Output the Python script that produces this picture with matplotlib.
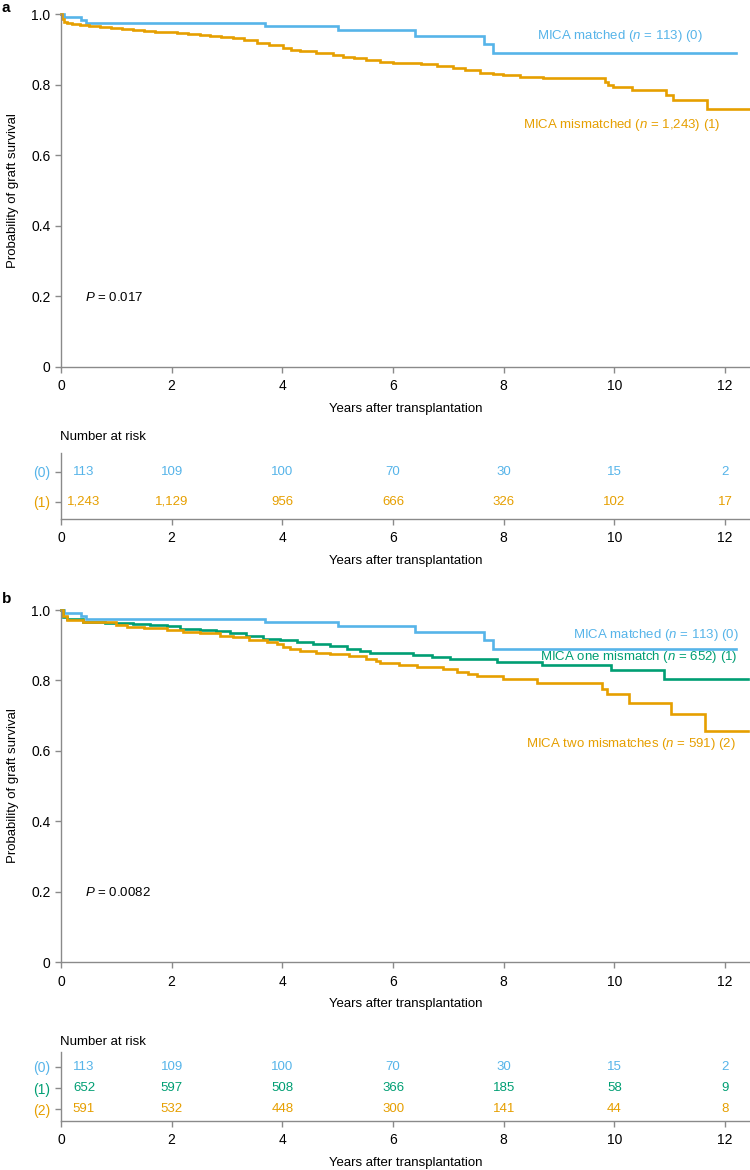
import numpy as np
import matplotlib
matplotlib.use("Agg")
import matplotlib.pyplot as plt

plt.rcParams['font.family'] = ['Liberation Sans', 'DejaVu Sans']
plt.rcParams['mathtext.fontset'] = 'custom'
plt.rcParams['mathtext.rm'] = 'Liberation Sans'
plt.rcParams['mathtext.it'] = 'Liberation Sans:italic'

# ---------------- data ----------------
years_ticks = [0, 2, 4, 6, 8, 10, 12]
surv_ticks = [0, 0.2, 0.4, 0.6, 0.8, 1.0]
surv_ticklabels = ['0', '0.2', '0.4', '0.6', '0.8', '1.0']

# MICA matched (same group in a and b)
matched_t = [0, 0.05, 0.37, 0.46, 3.68, 5.0, 6.4, 7.65, 7.81]
matched_s = [1.0, 0.992, 0.983, 0.974, 0.965, 0.955, 0.938, 0.916, 0.889]
matched_end = 12.2

# MICA mismatched (panel a)
mism_t = [0, 0.02, 0.05, 0.1, 0.2, 0.34, 0.5, 0.7, 0.9, 1.1, 1.31, 1.5, 1.7,
          1.91, 2.1, 2.3, 2.51, 2.7, 2.9, 3.11, 3.3, 3.54, 3.75, 4.02, 4.15,
          4.32, 4.6, 4.92, 5.1, 5.3, 5.52, 5.77, 6.0, 6.19, 6.5, 6.79, 7.09,
          7.3, 7.57, 7.8, 7.99, 8.3, 8.71, 9.83, 9.89, 9.98, 10.31, 10.93,
          11.05, 11.67]
mism_s = [1.0, 0.985, 0.978, 0.974, 0.971, 0.969, 0.966, 0.962, 0.960, 0.957,
          0.955, 0.952, 0.950, 0.948, 0.946, 0.944, 0.941, 0.938, 0.934, 0.931,
          0.926, 0.919, 0.912, 0.903, 0.899, 0.894, 0.889, 0.884, 0.879, 0.875,
          0.870, 0.864, 0.862, 0.860, 0.857, 0.854, 0.846, 0.841, 0.834, 0.830,
          0.827, 0.822, 0.818, 0.808, 0.799, 0.792, 0.785, 0.771, 0.756, 0.730]
mism_end = 12.45

# MICA one mismatch (panel b)
one_t = [0, 0.03, 0.1, 0.4, 0.8, 1.31, 1.6, 1.91, 2.15, 2.51, 2.8, 3.05, 3.35,
         3.65, 3.95, 4.26, 4.55, 4.86, 5.16, 5.4, 5.58, 6.36, 6.7, 7.03, 7.87,
         8.69, 9.93, 10.89]
one_s = [1.0, 0.98, 0.974, 0.967, 0.963, 0.959, 0.957, 0.955, 0.947, 0.944,
         0.940, 0.934, 0.927, 0.919, 0.914, 0.908, 0.903, 0.898, 0.889, 0.884,
         0.879, 0.872, 0.866, 0.860, 0.853, 0.844, 0.829, 0.804]
one_end = 12.42

# MICA two mismatches (panel b)
two_t = [0, 0.03, 0.1, 0.4, 0.7, 1.0, 1.19, 1.5, 1.91, 2.2, 2.51, 2.87, 3.11,
         3.4, 3.72, 3.9, 4.02, 4.14, 4.32, 4.6, 4.86, 5.2, 5.52, 5.7, 5.77,
         6.1, 6.43, 6.9, 7.15, 7.35, 7.51, 7.99, 8.6, 9.77, 9.86, 10.27,
         11.02, 11.63]
two_s = [1.0, 0.982, 0.972, 0.967, 0.965, 0.958, 0.953, 0.948, 0.943, 0.938,
         0.936, 0.925, 0.922, 0.915, 0.909, 0.903, 0.896, 0.888, 0.884, 0.879,
         0.874, 0.868, 0.862, 0.855, 0.850, 0.844, 0.839, 0.832, 0.825, 0.818,
         0.812, 0.803, 0.792, 0.775, 0.760, 0.735, 0.705, 0.656]
two_end = 12.42

# Numbers at risk
risk_a_labels = ['(0)', '(1)']
risk_a = [[113, 109, 100, 70, 30, 15, 2],
          [1243, 1129, 956, 666, 326, 102, 17]]
risk_b_labels = ['(0)', '(1)', '(2)']
risk_b = [[113, 109, 100, 70, 30, 15, 2],
          [652, 597, 508, 366, 185, 58, 9],
          [591, 532, 448, 300, 141, 44, 8]]

legend_a = ['MICA matched ($\\mathit{n}$ = 113) (0)',
            'MICA mismatched ($\\mathit{n}$ = 1,243) (1)']
legend_b = ['MICA matched ($\\mathit{n}$ = 113) (0)',
            'MICA one mismatch ($\\mathit{n}$ = 652) (1)',
            'MICA two mismatches ($\\mathit{n}$ = 591) (2)']
p_a = '$\\mathit{P}$ = 0.017'
p_b = '$\\mathit{P}$ = 0.0082'

# ---------------- style ----------------
BLUE = '#56B4E9'
ORANGE = '#E69F00'
GREEN = '#009E73'
GRAY = '#8a8a8a'
FS = 9.5
TFS = 10
XMAX = 12.45

W, H = 750, 1170
fig = plt.figure(figsize=(W / 100, H / 100), dpi=100)


def rect(top_px, bottom_px, left_px=61, right_px=750):
    return [left_px / W, 1 - bottom_px / H, (right_px - left_px) / W,
            (bottom_px - top_px) / H]


def style_axes(ax):
    for s in ['top', 'right']:
        ax.spines[s].set_visible(False)
    for s in ['left', 'bottom']:
        ax.spines[s].set_color(GRAY)
        ax.spines[s].set_linewidth(1.0)
    ax.tick_params(colors=GRAY, labelcolor='black', length=4, width=1.0,
                   labelsize=TFS)
    ax.tick_params(axis='x', pad=5)


def km(ax, t, s, end, color):
    tt = np.append(np.asarray(t, float), end)
    ss = np.append(np.asarray(s, float), s[-1])
    ax.step(tt, ss, where='post', color=color, lw=1.9, clip_on=False,
            solid_joinstyle='miter')


def main_panel(ax, curves, legends, legend_pos, ptext):
    style_axes(ax)
    for (t, s, end, c) in curves:
        km(ax, t, s, end, c)
    ax.set_xlim(0, XMAX)
    ax.set_ylim(0, 1.0)
    ax.set_xticks(years_ticks)
    ax.set_yticks(surv_ticks)
    ax.set_yticklabels(surv_ticklabels)
    ax.set_xlabel('Years after transplantation', fontsize=FS, labelpad=7)
    ax.set_ylabel('Probability of graft survival', fontsize=FS, labelpad=9)
    for txt, (x, y), (_, _, _, c) in zip(legends, legend_pos, curves):
        ax.text(x, y, txt, color=c, fontsize=FS, ha='right', va='center')
    ax.text(0.44, 0.198, ptext, fontsize=FS, ha='left', va='center')


def risk_panel(ax, labels, rows, colors, ylim):
    style_axes(ax)
    n = len(rows)
    ypos = list(range(n - 1, -1, -1))
    ax.set_xlim(0, XMAX)
    ax.set_ylim(*ylim)
    ax.set_xticks(years_ticks)
    ax.set_yticks(ypos)
    ax.set_yticklabels(labels)
    for lab, c in zip(ax.get_yticklabels(), colors):
        lab.set_color(c)
    ax.set_xlabel('Years after transplantation', fontsize=FS, labelpad=7)
    for row, y, c in zip(rows, ypos, colors):
        for t, v in zip(years_ticks, row):
            off = 23 if t == 0 else 0
            ax.annotate(f'{v:,}', (t, y), xytext=(off * 0.72, 0),
                        textcoords='offset points', ha='center', va='center',
                        color=c, fontsize=FS)


# Panel a
ax_a = fig.add_axes(rect(14, 367))
main_panel(ax_a,
           [(matched_t, matched_s, matched_end, BLUE),
            (mism_t, mism_s, mism_end, ORANGE)],
           legend_a, [(11.6, 0.938), (11.91, 0.686)], p_a)

ax_ta = fig.add_axes(rect(453, 519))
risk_panel(ax_ta, risk_a_labels, risk_a, [BLUE, ORANGE], (-0.567, 1.633))

# Panel b
ax_b = fig.add_axes(rect(610, 962))
main_panel(ax_b,
           [(matched_t, matched_s, matched_end, BLUE),
            (one_t, one_s, one_end, GREEN),
            (two_t, two_s, two_end, ORANGE)],
           legend_b, [(12.25, 0.929), (12.22, 0.867), (12.2, 0.619)], p_b)

ax_tb = fig.add_axes(rect(1052, 1121))
risk_panel(ax_tb, risk_b_labels, risk_b, [BLUE, GREEN, ORANGE],
           (-0.571, 2.714))

fig.text(60 / W, 1 - 437 / H, 'Number at risk', fontsize=FS, ha='left',
         va='center')
fig.text(60 / W, 1 - 1042 / H, 'Number at risk', fontsize=FS, ha='left',
         va='center')
fig.text(2 / W, 1 - 8 / H, 'a', fontsize=11, fontweight='bold', ha='left',
         va='center')
fig.text(2 / W, 1 - 599 / H, 'b', fontsize=11, fontweight='bold', ha='left',
         va='center')

fig.savefig('out.png', dpi=100)
